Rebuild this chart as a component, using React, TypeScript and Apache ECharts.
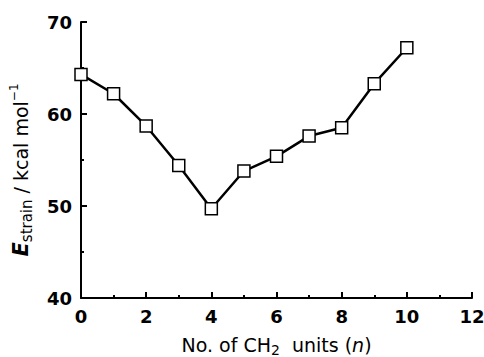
import React, { useEffect, useRef } from "react";
import * as echarts from "echarts";

const nValues = [0, 1, 2, 3, 4, 5, 6, 7, 8, 9, 10];
const strainEnergy = [64.3, 62.2, 58.7, 54.4, 49.7, 53.8, 55.4, 57.6, 58.5, 63.3, 67.2];

const FONT = "'DejaVu Sans', sans-serif";

export default function App() {
  const ref = useRef<HTMLDivElement>(null);
  useEffect(() => {
    if (!ref.current) return;
    const chart = echarts.init(ref.current, undefined, { renderer: "svg" });
    const axisCommon = {
      axisLine: { show: true, lineStyle: { color: "#000", width: 2 } },
      axisTick: { show: true, inside: true, length: 6, lineStyle: { color: "#000", width: 2 } },
      minorTick: { show: true, splitNumber: 2, length: 3, lineStyle: { color: "#000", width: 2 } },
      splitLine: { show: false },
      axisLabel: { color: "#000", fontSize: 18, fontFamily: FONT, fontWeight: 600 },
    };
    chart.setOption({
      animation: false,
      backgroundColor: "#fff",
      grid: { left: 81, right: 12, top: 22, bottom: 59, outerBoundsMode: "none", containLabel: false },
      xAxis: {
        type: "value",
        min: 0,
        max: 12,
        interval: 2,
        ...axisCommon,
        axisLabel: { ...axisCommon.axisLabel, margin: 9 },
        name: "{t|No. of CH}{sub|2}{t|  units (}{it|n}{t|)}",
        nameLocation: "middle",
        nameGap: 35,
        nameTextStyle: {
          rich: {
            t: { fontSize: 19, fontFamily: FONT, color: "#000", lineHeight: 24 },
            sub: { fontSize: 14, fontFamily: FONT, color: "#000", verticalAlign: "bottom", lineHeight: 14 },
            it: { fontSize: 19, fontFamily: FONT, fontStyle: "italic", color: "#000", lineHeight: 24 },
          },
        },
      },
      yAxis: {
        type: "value",
        min: 40,
        max: 70,
        interval: 10,
        ...axisCommon,
        axisLabel: { ...axisCommon.axisLabel, margin: 9 },
        name: "{e|E}{sub|strain}{t| / kcal mol}{sup|−1}",
        nameLocation: "middle",
        nameRotate: 90,
        nameGap: 47,
        nameTextStyle: {
          padding: [0, 20, 0, 0],
          rich: {
            e: { fontSize: 21, fontFamily: FONT, fontWeight: "bold", fontStyle: "italic", color: "#000", lineHeight: 26 },
            t: { fontSize: 19, fontFamily: FONT, color: "#000", lineHeight: 26 },
            sub: { fontSize: 15, fontFamily: FONT, color: "#000", verticalAlign: "bottom", lineHeight: 14 },
            sup: { fontSize: 12, fontFamily: FONT, color: "#000", verticalAlign: "top", lineHeight: 12 },
          },
        },
      },
      series: [
        {
          type: "line",
          data: nValues.map((n, i) => [n, strainEnergy[i]]),
          lineStyle: { color: "#000", width: 2.5 },
          symbol: "rect",
          symbolSize: 12,
          showAllSymbol: true,
          itemStyle: { color: "#fff", borderColor: "#000", borderWidth: 1.5 },
          z: 5,
        },
      ],
    });
    return () => chart.dispose();
  }, []);
  return <div ref={ref} style={{ width: 484, height: 357, position: "absolute", left: 0, top: 0 }} />;
}
